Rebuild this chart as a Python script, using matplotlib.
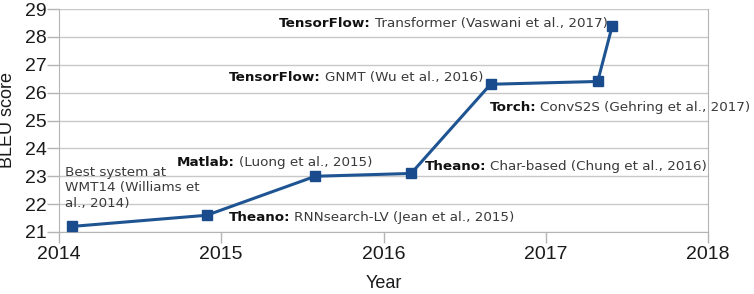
import matplotlib
matplotlib.use("Agg")
import matplotlib.pyplot as plt

# data
years = [2014.08, 2014.91, 2015.58, 2016.17, 2016.66, 2017.32, 2017.41]
bleu = [21.2, 21.6, 23.0, 23.1, 26.3, 26.4, 28.4]

# (bold toolkit, rest of label, x in years, y in BLEU)
labels = [
    ("TensorFlow:", "Transformer (Vaswani et al., 2017)", 2015.355, 28.48),
    ("TensorFlow:", "GNMT (Wu et al., 2016)", 2015.05, 26.53),
    ("Torch:", "ConvS2S (Gehring et al., 2017)", 2016.655, 25.45),
    ("Theano:", "Char-based (Chung et al., 2016)", 2016.255, 23.35),
    ("Matlab:", "(Luong et al., 2015)", 2014.725, 23.5),
    ("Theano:", "RNNsearch-LV (Jean et al., 2015)", 2015.045, 21.53),
]
note = "Best system at\nWMT14 (Williams et\nal., 2014)"

line_col = "#1f5492"
grid_col = "#c8c8c8"

fig = plt.figure(figsize=(7.54, 2.94), dpi=100)
ax = fig.add_axes([59 / 754, 1 - 232 / 294, (708 - 59) / 754, (232 - 9) / 294])

ax.plot(years, bleu, color=line_col, lw=2.2, marker="s", ms=7,
        mfc="#1a4b8c", mec="#1a4b8c", zorder=3)

ax.set_xlim(2014, 2018)
ax.set_ylim(21, 29)
ax.set_xticks([2014, 2015, 2016, 2017, 2018])
ax.set_yticks(range(21, 30))
ax.yaxis.grid(True, color=grid_col, lw=1)
ax.set_axisbelow(True)
ax.spines["top"].set_visible(False)
for s in ["left", "right", "bottom"]:
    ax.spines[s].set_color("#b4b4b4")
ax.tick_params(axis="both", colors="#b4b4b4", labelcolor="#1a1a1a",
               labelsize=14, length=8, width=1)
for t in ax.get_xticklabels() + ax.get_yticklabels():
    t.set_family("Liberation Sans")
ax.tick_params(axis="x", pad=2)
ax.tick_params(axis="y", pad=0, length=9)

ax.set_xlabel("Year", family="Liberation Sans", fontsize=13, color="#1a1a1a", labelpad=9)
ax.set_ylabel("BLEU score", family="Liberation Sans", fontsize=13, color="#1a1a1a", labelpad=6)

fig.canvas.draw()
r = fig.canvas.get_renderer()
for bold, rest, x, y in labels:
    t = ax.text(x, y, bold, fontsize=9.7, fontweight="bold", color="#111111",
                va="center", ha="left", family="DejaVu Sans")
    bb = t.get_window_extent(renderer=r)
    x2, _ = ax.transData.inverted().transform((bb.x1 + 4, bb.y0))
    ax.text(x2, y, rest, fontsize=9.7, color="#3a3a3a", va="center", ha="left",
            family="DejaVu Sans")

ax.text(2014.04, 23.37, note, fontsize=9.7, color="#3a3a3a", va="top", ha="left",
        family="DejaVu Sans", linespacing=1.25)

fig.savefig("out.png", dpi=100)
